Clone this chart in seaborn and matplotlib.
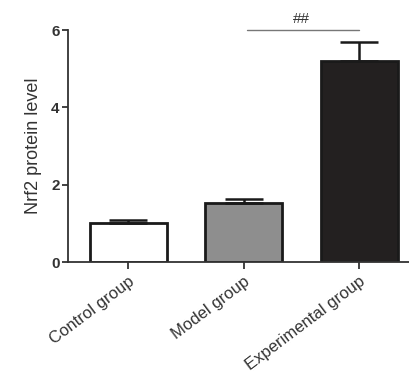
import numpy as np
import pandas as pd
import matplotlib
matplotlib.use('Agg')
import matplotlib.pyplot as plt
import seaborn as sns

# data
groups = ['Control group', 'Model group', 'Experimental group']
means = [1.02, 1.53, 5.19]
errs = [0.07, 0.11, 0.50]
colors = ['#ffffff', '#8e8e8e', '#231f20']

data = pd.DataFrame({'Group': groups, 'Nrf2': means})

sns.set_style('ticks')
plt.rcParams['font.family'] = ['Liberation Sans', 'DejaVu Sans']

fig = plt.figure(figsize=(4.1, 3.76), dpi=100)
ax = fig.add_axes([0.166, 0.303, 0.834, 0.617])

sns.barplot(data=data, x='Group', y='Nrf2', hue='Group', palette=colors,
            width=0.667, edgecolor='#1a1a1a', linewidth=2.0, legend=False,
            errorbar=None, ax=ax)
for p in ax.patches:
    p.set_alpha(1)

# upper error bars only
ax.errorbar(np.arange(len(groups)), means, yerr=[[0] * 3, errs], fmt='none',
            ecolor='#1a1a1a', elinewidth=1.8, capsize=14, capthick=1.8, zorder=1)

ax.set_ylim(0, 6)
ax.set_xlim(-0.52, 2.44)
ax.set_yticks([0, 2, 4, 6])
ax.set_xlabel('')
ax.set_ylabel('Nrf2 protein level', fontsize=13, color='#333333', labelpad=7)
ax.tick_params(axis='y', labelsize=11, width=1.3, length=4, colors='#333333', pad=2)
ax.tick_params(axis='x', labelsize=12, width=1.3, length=5, colors='#333333')
for lbl in ax.get_yticklabels():
    lbl.set_fontweight('bold')
plt.setp(ax.get_xticklabels(), rotation=37, ha='right', rotation_mode='anchor')

sns.despine(ax=ax)
ax.spines['left'].set_linewidth(1.3)
ax.spines['bottom'].set_linewidth(1.3)
ax.spines['left'].set_color('#333333')
ax.spines['bottom'].set_color('#333333')

# significance marker
ax.plot([1.03, 2.0], [6.0, 6.0], color='#777777', lw=1.0, clip_on=False)
ax.text(1.5, 6.1, '##', ha='center', va='bottom', fontsize=11, color='#333333')

fig.savefig('out.png', dpi=100)
